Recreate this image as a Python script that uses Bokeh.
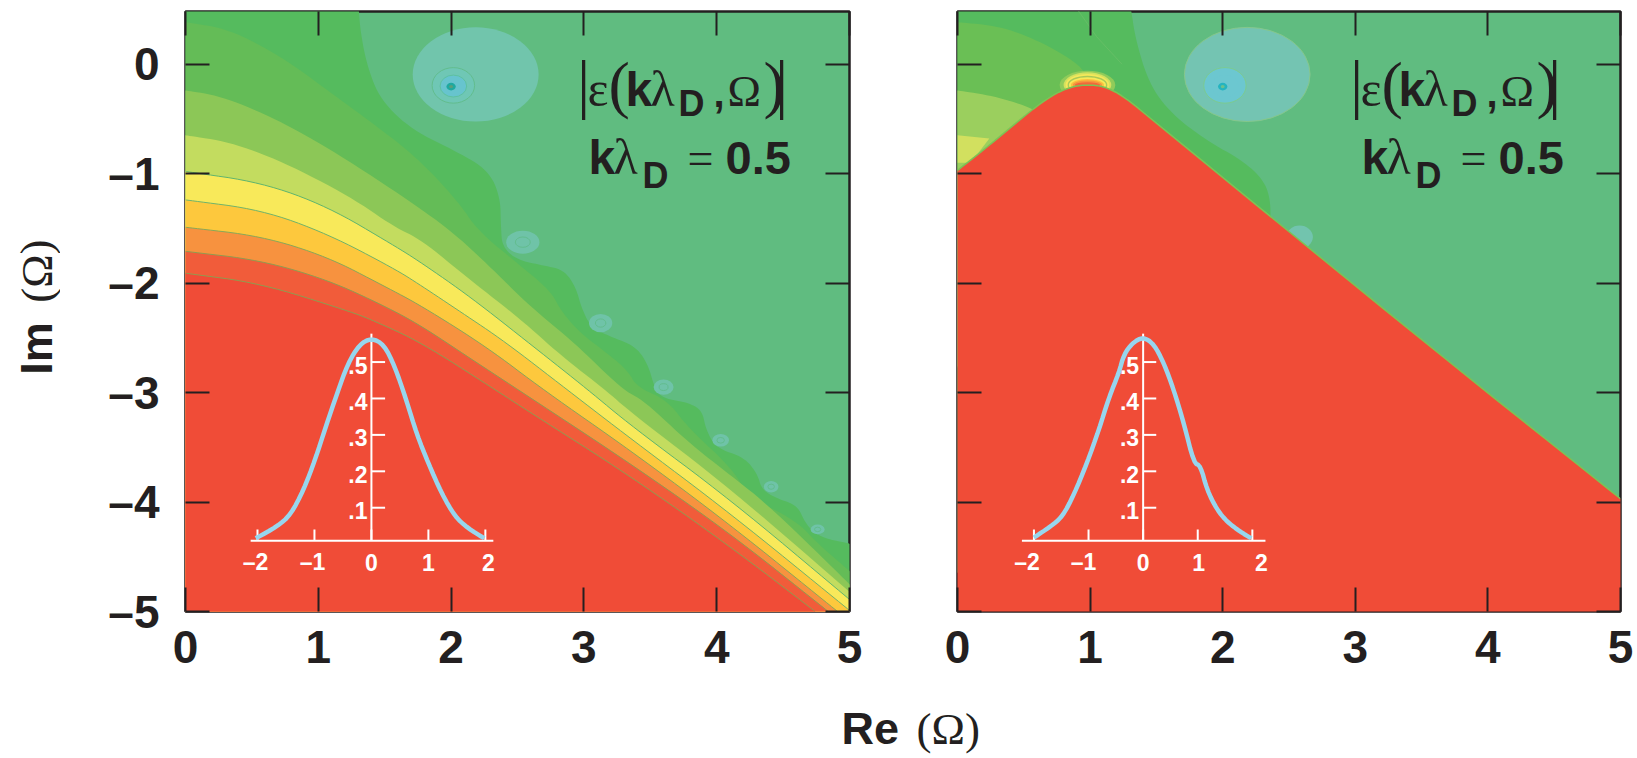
from bokeh.plotting import figure
from bokeh.layouts import row, column
from bokeh.models import Range1d, Label, FixedTicker, LinearAxis, ColumnDataSource
from bokeh.core.properties import value
from bokeh.embed import file_html
from bokeh.resources import INLINE

# ---- category / tick labels
x_ticks = [0, 1, 2, 3, 4, 5]
y_ticks = [0, -1, -2, -3, -4, -5]
y_tick_labels = {0: "0", -1: "\u20131", -2: "\u20132", -3: "\u20133", -4: "\u20134", -5: "\u20135"}
inset_x_ticks = [-2, -1, 0, 1, 2]
inset_x_labels = ["\u20132", "\u20131", "0", "1", "2"]
inset_y_ticks = [.1, .2, .3, .4, .5]
inset_y_labels = [".1", ".2", ".3", ".4", ".5"]

# ---- left panel contour boundaries (Re, Im)
L0_x = [1.305,1.32,1.37,1.47,1.71,2.05,2.28,2.37,2.375,2.386,2.5,2.70,2.85,2.94,2.98,3.05,3.20,3.38,3.48,3.54,3.62,3.78,3.89,3.92,4.0,4.205,4.306,4.34,4.46,4.607,4.67,4.77,5]
L0_y = [.49,.277,-.027,-.331,-.605,-.803,-.97,-1.21,-1.49,-1.67,-1.79,-1.84,-1.88,-2.04,-2.22,-2.40,-2.49,-2.57,-2.73,-2.99,-3.06,-3.09,-3.16,-3.345,-3.51,-3.59,-3.74,-3.89,-3.97,-4.03,-4.2,-4.32,-4.38]
L1_x = [0,.33,.73,1.07,1.41,1.74,2.05,2.2,2.47,2.75,2.825,2.975,3.18,3.33,3.40,3.63,3.78,4.13,4.23,4.6,4.76,5]
L1_y = [.383,.32,.064,-.24,-.54,-.85,-1.25,-1.519,-1.79,-2.07,-2.25,-2.46,-2.645,-2.80,-2.95,-3.07,-3.315,-3.71,-3.95,-4.17,-4.38,-4.63]
L2_x = [0,.26,.63,1.07,1.64,1.997,2.27,2.60,2.925,3.29,3.45,3.80,4.105,4.405,5]
L2_y = [-.24,-.29,-.47,-.76,-1.21,-1.519,-1.823,-2.22,-2.54,-2.974,-3.07,-3.47,-3.756,-4.045,-4.75]
L3_x = [0,.33,.73,1.24,1.575,1.771,2.147,2.52,2.825,3.16,3.352,4.105,5]
L3_y = [-.65,-.71,-.89,-1.21,-1.49,-1.60,-1.975,-2.326,-2.66,-2.974,-3.18,-3.88,-4.82]
L4_x = [0,.57,1.07,1.575,1.771,2.147,2.62,3.03,3.352,4.105,5]
L4_y = [-.98,-1.08,-1.30,-1.66,-1.81,-2.128,-2.58,-2.974,-3.30,-3.98,-4.89]
L5_x = [0,.57,1.07,1.575,1.771,2.08,2.40,2.875,3.352,4.105,5]
L5_y = [-1.24,-1.33,-1.55,-1.87,-2.02,-2.27,-2.53,-2.975,-3.42,-4.106,-4.99]
L6_x = [0,.57,1.07,1.5,1.771,2.27,2.70,3.352,4.105,4.9,4.91]
L6_y = [-1.49,-1.57,-1.76,-2.03,-2.204,-2.585,-2.98,-3.53,-4.21,-4.99,-5]
L7_x = [0,.56,1.07,1.5,1.771,2.147,2.55,3.352,4.105,4.82,4.84]
L7_y = [-1.71,-1.79,-1.97,-2.21,-2.387,-2.69,-3.01,-3.65,-4.29,-4.98,-5]
L8_x = [0,.56,1.24,1.41,1.771,2.32,2.58,3.352,4.105,4.72,4.74]
L8_y = [-1.91,-2.0,-2.26,-2.34,-2.54,-2.965,-3.17,-3.765,-4.41,-4.98,-5]

# ---- right panel boundaries
R0_x = [1.31,1.345,1.445,1.61,1.88,2.15,2.31,2.36,2.36]
R0_y = [.49,.216,-.18,-.45,-.70,-.88,-1.06,-1.24,-1.45]
R1_x = [0,.31,.61,.88,.98]
R1_y = [.383,.35,.216,.03,-.1]
R2_x = [0,.27,.54,.7]
R2_y = [-.24,-.29,-.39,-.5]
R3_x = [0,.24,.1,0]
R3_y = [-.65,-.68,-.9,-.9]
R_red_x = [0,.2,.4,.6,.75,.88,.98,1.1,1.25,1.5,3.5,5]
R_red_y = [-.97,-.78,-.58,-.38,-.26,-.2,-.19,-.2,-.29,-.54,-2.52,-3.97]
R_line_x = [.91,1.05,1.24]
R_line_y = [.49,.25,.0]

# ---- pole "bubbles": x, y, width, height
left_bub_x = [2.54,3.126,3.6,4.03,4.41,4.76]
left_bub_y = [-1.626,-2.365,-2.95,-3.436,-3.86,-4.25]
left_bub_w = [.25,.175,.15,.125,.11,.105]
left_bub_h = [.21,.167,.14,.115,.105,.09]
right_bub_x = [2.58]
right_bub_y = [-1.58]
right_bub_w = [.2]
right_bub_h = [.21]
pole_x = [2.185, 2.017, 2.017, 2.0, 2.0]
pole_y = [-.094, -.194, -.2, -.205, -.205]
pole_w = [.948, .32, .2, .07, .03]
pole_h = [.86, .325, .2, .07, .03]

# ---- apex fringes of the right panel (ellipses behind the red wedge)
fr_x = [.98]*8
fr_y = [-.19]*8
fr_w = [.42,.36,.33,.30,.28,.25,.22,.19]
fr_h = [.26,.23,.20,.17,.14,.11,.08,.05]
fr_c = ["#8FCB5A","#D4E05E","#F4E85A","#A9C957","#F8E95A","#FBBF3E","#F4973F","#F2683A"]

# ---- inset distributions (velocity, value)
fL_x = [-2.03,-1.66,-1.42,-1.19,-.99,-.80,-.60,-.41,-.21,0,.22,.41,.61,.80,1.0,1.23,1.47,1.70,1.98]
fL_y = [.016,.048,.08,.149,.231,.323,.415,.497,.548,.566,.548,.488,.397,.30,.222,.14,.075,.043,.016]
fR_x = [-2.0,-1.70,-1.48,-1.27,-1.03,-.81,-.63,-.445,-.354,-.20,0,.195,.38,.56,.745,.93,1.05,1.17,1.355,1.54,1.78,1.98]
fR_y = [.018,.048,.075,.135,.222,.314,.401,.470,.520,.552,.569,.55,.497,.424,.332,.222,.216,.149,.094,.061,.034,.016]

# ---- colours
BG = "#60BC80"; G1 = "#55BB5E"; G2 = "#64BC57"; G3 = "#8CC757"; G4 = "#C3DC5F"
YE = "#F8E95A"; OR1 = "#FDC83D"; OR2 = "#F7923F"; OR3 = "#F15C3A"; RED = "#F04C37"
INK = "#231f20"; SANS = "Liberation Sans"; SERIF = "Liberation Serif"

TOP = 0.481
ROW_H = 698

def rounded(xs, ys, n=3):
    """Draw a read-off boundary with its corners rounded, as a smooth line would be."""
    for _ in range(n):
        ox, oy = [xs[0]], [ys[0]]
        for i in range(len(xs) - 1):
            ox += [.75*xs[i] + .25*xs[i+1], .25*xs[i] + .75*xs[i+1]]
            oy += [.75*ys[i] + .25*ys[i+1], .25*ys[i] + .75*ys[i+1]]
        ox.append(xs[-1]); oy.append(ys[-1])
        xs, ys = ox, oy
    return xs, ys

def style_axis(ax):
    ax.axis_line_color = None
    ax.major_tick_line_color = INK
    ax.major_tick_line_width = 2
    ax.major_tick_in = 24
    ax.major_tick_out = 0
    ax.minor_tick_line_color = None
    ax.major_label_text_font = SANS
    ax.major_label_text_font_style = "bold"
    ax.major_label_text_font_size = "46px"
    ax.major_label_text_color = INK

def no_labels(ax, ticks):
    ax.major_label_overrides = {t: "" for t in ticks}
    ax.major_label_text_font_size = "1px"
    ax.major_label_standoff = 0

def make_panel(width, border_left, border_right, show_y_labels, ix_range, iy_range):
    p = figure(width=width, height=ROW_H, output_backend="svg", toolbar_location=None,
               x_range=Range1d(0, 5), y_range=Range1d(-5, TOP),
               min_border_left=border_left, min_border_right=border_right,
               min_border_top=11, min_border_bottom=87, background_fill_color=BG)
    p.extra_x_ranges = {"ix": Range1d(*ix_range)}
    p.extra_y_ranges = {"iy": Range1d(*iy_range)}
    p.grid.visible = False
    p.outline_line_color = INK
    p.outline_line_width = 2.5
    for ax in [p.xaxis[0], p.yaxis[0]]:
        style_axis(ax)
    p.xaxis[0].ticker = FixedTicker(ticks=x_ticks)
    p.yaxis[0].ticker = FixedTicker(ticks=y_ticks)
    p.xaxis[0].major_label_standoff = 19
    p.yaxis[0].major_label_standoff = 26
    p.yaxis[0].major_label_overrides = y_tick_labels
    if not show_y_labels:
        no_labels(p.yaxis[0], y_ticks)
    return p

def add_guides(p):
    top = LinearAxis(ticker=FixedTicker(ticks=x_ticks))
    right = LinearAxis(ticker=FixedTicker(ticks=y_ticks))
    style_axis(top); style_axis(right)
    no_labels(top, x_ticks); no_labels(right, y_ticks)
    p.add_layout(top, "above")
    p.add_layout(right, "right")

def band(p, xs, ys, color, line=None, top_fill=False):
    sx, sy = rounded(xs, ys)
    if top_fill:
        p.patch(sx + [6, -1, -1], sy + [-6, -6, 1], color=color, line_color=None)
    else:
        p.patch(sx + [6, -1, -1], sy + [-6, -6, sy[0]], color=color, line_color=None)
    if line:
        p.line(sx, sy, line_color=line, line_width=1)

def inset(p, fx, fy, label_dx, ax_lo, ax_hi):
    kw = dict(x_range_name="ix", y_range_name="iy")
    p.segment([ax_lo], [.009], [ax_hi], [.009], line_color="white", line_width=2, **kw)
    p.segment([0], [.009], [0], [.578], line_color="white", line_width=2, **kw)
    p.segment(inset_x_ticks, [.009]*5, inset_x_ticks, [.04]*5, line_color="white", line_width=2, **kw)
    p.segment([0]*5, inset_y_ticks, [.24]*5, inset_y_ticks, line_color="white", line_width=2, **kw)
    sx, sy = rounded(fx, fy, 2)
    p.line(sx, sy, line_color="#97D6EE", line_width=4.5, **kw)
    s1 = ColumnDataSource(dict(x=inset_x_ticks, y=[0]*5, t=inset_x_labels, dx=label_dx))
    p.text(x="x", y="y", text="t", x_offset="dx", y_offset=18, source=s1,
           text_color="white", text_font=value(SANS), text_font_style="bold", text_font_size="23px",
           text_align="center", text_baseline="alphabetic", **kw)
    s2 = ColumnDataSource(dict(x=[0]*5, y=inset_y_ticks, t=inset_y_labels))
    p.text(x="x", y="y", text="t", x_offset=-4, y_offset=3, source=s2,
           text_color="white", text_font=value(SANS), text_font_style="bold", text_font_size="23px",
           text_align="right", text_baseline="alphabetic", **kw)

def annotate(p, x0, sx, shift):
    def lab(t, px, py, size, font=SANS, bold=True, align="left"):
        py = py - .385 * size
        p.add_layout(Label(x=(px + shift - x0) / sx, y=(63.7 - py) / 109.47, text=t,
                           text_font=font, text_font_style="bold" if bold else "normal",
                           text_font_size=f"{size}px", text_color=INK, text_align=align,
                           text_baseline="alphabetic"))
    lab("|", 583, 108, 66, SERIF, False, "center")
    lab("\u03b5", 587, 108, 50, SERIF, False)
    lab("(", 608, 108.7, 64, SERIF, False)
    lab("k", 625, 108, 48)
    lab("\u03bb", 650, 108, 50, SERIF, False)
    lab("D", 678, 117, 36)
    lab(",", 713, 108, 40)
    lab("\u03a9", 727, 108, 45, SERIF, False)
    lab(")", 763, 108.7, 64, SERIF, False)
    lab("|", 781, 108, 66, SERIF, False, "center")
    lab("k", 588, 176, 48)
    lab("\u03bb", 613, 176, 50, SERIF, False)
    lab("D", 642, 189, 36)
    lab("=", 687, 176, 46, SERIF, False)
    lab("0.5", 725, 176, 47)

# ======== y title column
pY = figure(width=60, height=ROW_H, output_backend="svg", toolbar_location=None,
            x_range=Range1d(0, 60), y_range=Range1d(ROW_H, 0), x_axis_location=None, y_axis_location=None,
            min_border=0, outline_line_color=None)
pY.grid.visible = False
pY.add_layout(Label(x=36, y=392, text="Im", text_font=SANS, text_font_style="bold", text_font_size="45px",
                    text_color=INK, text_baseline="middle", text_align="center", angle=1.5708))
pY.add_layout(Label(x=36, y=302, text="(\u03a9)", text_font=SERIF, text_font_size="45px",
                    text_color=INK, text_baseline="middle", text_align="center", angle=1.5708))

# ======== left panel
pL = make_panel(840, 125, 51, True, (-1.40/.429, 3.60/.429), (-.185, 1.4627))
band(pL, L0_x, L0_y, G1, top_fill=True)
band(pL, L1_x, L1_y, G2)
band(pL, L2_x, L2_y, G3)
band(pL, L3_x, L3_y, G4)
band(pL, L4_x, L4_y, YE, "#5FB46E")
band(pL, L5_x, L5_y, OR1, "#6FB36A")
band(pL, L6_x, L6_y, OR2, "#88A858")
band(pL, L7_x, L7_y, OR3, "#8F9C50")
band(pL, L8_x, L8_y, RED, "#8F9C50")
pL.ellipse(left_bub_x, left_bub_y, width=left_bub_w, height=left_bub_h, fill_color="#6FC3A8", line_color=None)
pL.ellipse(left_bub_x, left_bub_y, width=[w * .45 for w in left_bub_w], height=[h * .45 for h in left_bub_h],
           fill_color=None, line_color="#62BD8E", line_width=1)
pL.ellipse(pole_x, pole_y, width=pole_w, height=pole_h,
           fill_color=["#71C5AC", "#6FC7B5", "#67C4CE", "#1FA9A0", "#5B9E7C"], line_color=[None, "#62BD8E", "#5EC1A0", None, None], line_width=1)
inset(pL, fL_x, fL_y, [-2, -2, 0, 0, 3], -2.12, 2.14)
add_guides(pL)
annotate(pL, 185, 132.8, 0)

# ======== right panel
pR = make_panel(737, 57, 17, False, (-1.40/.4118, 3.60/.4118), (-.185, 1.4627))
sx, sy = rounded(R0_x, R0_y)
pR.patch(sx + [-1, -1], sy + [-6, 1], color=G1, line_color=None)
sx, sy = rounded(R1_x, R1_y)
pR.patch(sx + [-1, -1], sy + [-6, sy[0]], color="#6ABF55", line_color=None)
sx, sy = rounded(R2_x, R2_y)
pR.patch(sx + [-1, -1], sy + [-6, sy[0]], color="#9BCF5E", line_color=None)
pR.patch(R3_x, R3_y, color="#D2E05F", line_color=None)
pR.line(R_line_x, R_line_y, line_color="#66BE66", line_width=1)
pR.ellipse(right_bub_x, right_bub_y, width=right_bub_w, height=right_bub_h, fill_color="#72C4AE", line_color=None)
pR.ellipse(pole_x, pole_y, width=pole_w, height=pole_h,
           fill_color=["#74C4B2", "#6CC7D0", "#6CC7D0", "#25B4C0", "#6BC090"], line_color=["#86C78A", "#7CCB90", None, None, None], line_width=1)
pR.ellipse(fr_x, fr_y, width=fr_w, height=fr_h, fill_color=fr_c, line_color=None)
sx, sy = rounded(R_red_x, R_red_y, 2)
pR.patch(sx + [6, -1, -1], sy + [-6, -6, sy[0] - 1], color=RED, line_color=None)
pR.line(sx, sy, line_color="#7CC355", line_width=1.5)
inset(pR, fR_x, fR_y, [-7, -5, 0, 1, 9], -2.22, 2.24)
add_guides(pR)
annotate(pR, 957, 132.6, 773)

# ======== shared x title
pT = figure(width=1637, height=60, output_backend="svg", toolbar_location=None,
            x_range=Range1d(0, 1637), y_range=Range1d(60, 0), x_axis_location=None, y_axis_location=None,
            min_border=0, outline_line_color=None)
pT.grid.visible = False
pT.add_layout(Label(x=841, y=30, text="Re", text_font=SANS, text_font_style="bold", text_font_size="45px",
                    text_color=INK, text_baseline="alphabetic"))
pT.add_layout(Label(x=916, y=30, text="(\u03a9)", text_font=SERIF, text_font_size="45px",
                    text_color=INK, text_baseline="alphabetic"))

page = column(row(pY, pL, pR, spacing=0), pT, spacing=0)
open("out.html", "w").write(file_html(page, INLINE))
